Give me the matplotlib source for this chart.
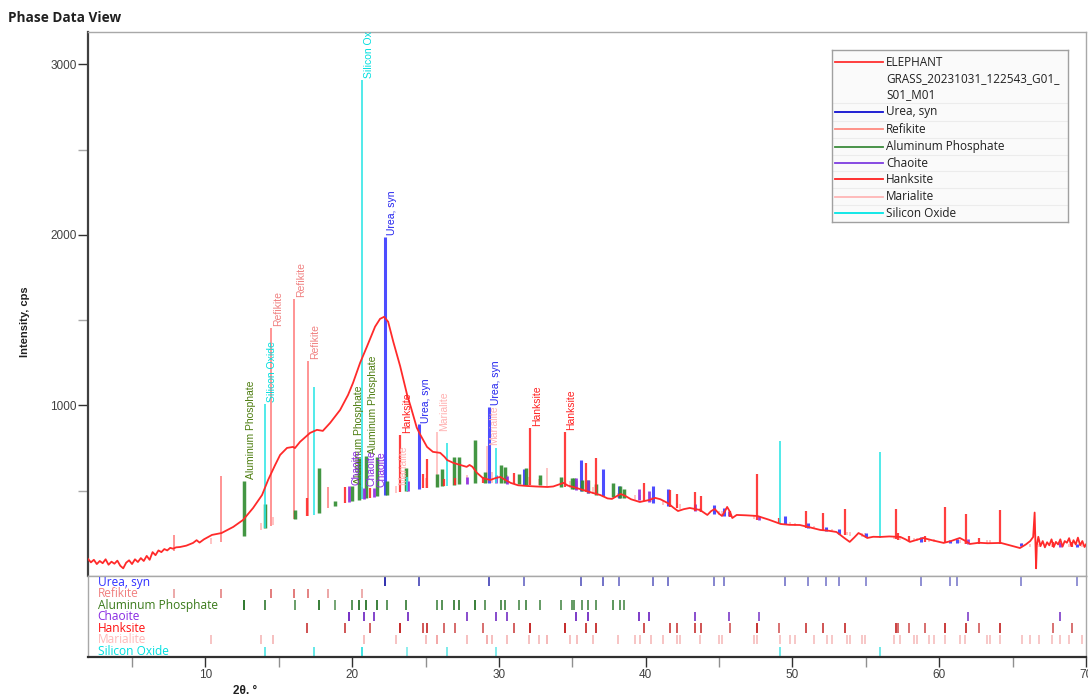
"""Phase Data View: XRD pattern with reference phase sticks."""

import numpy as np
import matplotlib
matplotlib.use("Agg")
import matplotlib.pyplot as plt

# measured pattern (2theta in deg, intensity in cps)
two_theta = [
    2.0, 2.2, 2.4, 2.6, 2.8, 3.0, 3.2, 3.4, 3.6, 3.8, 4.0, 4.2, 4.4, 4.6, 4.8,
    5.0, 5.2, 5.4, 5.6, 5.8, 6.0, 6.2, 6.4, 6.6, 6.8, 7.0, 7.2, 7.4, 7.6, 7.8,
    8.0, 8.27, 8.7, 9.16, 9.4, 9.6, 9.9, 10.45, 11.1, 11.9, 12.57, 13.25, 13.86,
    14.27, 14.75, 15.09, 15.56, 15.97, 16.1, 16.45, 17.13, 17.6, 18.0, 18.5,
    19.18, 19.72, 20.06, 20.54, 21.0, 21.56, 21.9, 22.18, 22.45, 22.8, 23.27,
    23.75, 24.0, 24.4, 24.63, 25.1, 25.5, 26.0, 26.3, 26.47, 26.9, 27.4, 27.8,
    28.0, 28.2, 28.5, 28.9, 29.4, 29.8, 30.1, 30.4, 30.8, 31.3, 31.9, 32.5,
    33.3, 33.7, 34.0, 34.4, 34.7, 35.06, 35.7, 36.4, 36.9, 37.4, 37.7, 38.06,
    38.3, 38.6, 39.0, 39.6, 40.2, 40.65, 41.0, 41.5, 41.9, 42.2, 42.6, 43.0,
    43.7, 44.2, 44.45, 44.7, 45.0, 45.2, 45.4, 45.55, 45.75, 45.9, 46.2, 46.8,
    47.6, 48.4, 49.2, 49.8, 50.5, 51.2, 51.9, 52.5, 53.0, 53.5, 53.9, 54.2,
    54.5, 54.8, 55.1, 55.5, 56.0, 56.6, 57.35, 57.7, 58.0, 58.4, 58.9, 59.5,
    60.3, 60.8, 61.4, 61.8, 62.1, 62.7, 63.3, 64.2, 64.8, 65.5, 65.9, 66.2,
    66.4, 66.5, 66.55, 66.6, 66.65, 66.75, 66.9, 67.05, 67.2, 67.35, 67.5,
    67.65, 67.8, 67.95, 68.1, 68.25, 68.4, 68.55, 68.7, 68.85, 69.0, 69.15,
    69.3, 69.45, 69.6, 69.75, 69.9, 70.0,
]
intensity = [
    100, 80, 95, 70, 88, 75, 98, 66, 84, 72, 90, 60, 45, 78, 92,
    70, 98, 82, 105, 88, 118, 95, 140, 122, 150, 140, 158, 150, 165, 160,
    168, 170, 178, 194, 210, 196, 215, 241, 252, 288, 329, 399, 475,
    563, 651, 710, 751, 757, 750, 787, 839, 857, 851, 898,
    974, 1062, 1133, 1250, 1344, 1462, 1508, 1520, 1491, 1374, 1230,
    1060, 990, 870, 830, 757, 728, 722, 698, 680, 663, 650, 640,
    651, 640, 605, 575, 563, 575, 581, 565, 546, 532, 528, 525,
    522, 525, 534, 546, 530, 522, 505, 487, 475, 455, 452, 470,
    481, 470, 450, 434, 445, 458, 450, 428, 400, 381, 392, 399,
    387, 358, 380, 393, 365, 352, 380, 405, 375, 340, 358, 356,
    352, 330, 305, 300, 299, 285, 270, 265, 258, 225, 200, 225,
    252, 238, 223, 230, 229, 232, 229, 215, 200, 210, 223, 210,
    194, 205, 223, 205, 188, 195, 192, 194, 180, 164, 185, 205,
    229, 372, 210, 45, 180, 230, 175, 205, 168, 198, 180,
    215, 170, 200, 185, 215, 172, 205, 195, 222, 175, 210,
    185, 225, 180, 205, 170, 185,
]

# background level the reference sticks stand on
bg_theta = [2, 8, 11, 12.6, 14, 15.7, 17.5, 18.4, 20, 22.2, 24.5, 27, 29.3,
            32, 34.5, 37, 40, 42, 44, 46, 48, 50, 52, 54, 56, 58, 60, 62,
            64, 66, 70]
bg_counts = [60, 150, 200, 235, 280, 330, 358, 400, 440, 475, 510, 535, 548,
             535, 522, 470, 440, 400, 370, 345, 325, 295, 268, 235, 225, 205,
             195, 190, 190, 170, 170]

phase_names = ["Urea, syn", "Refikite", "Aluminum Phosphate", "Chaoite",
               "Hanksite", "Marialite", "Silicon Oxide"]

urea_pos = [22.22, 24.56, 29.34, 31.7, 35.56, 37.08, 38.18, 40.5, 41.49, 44.63,
            45.36, 49.51, 51.03, 52.31, 53.19, 55.0, 58.76, 60.76, 61.22,
            65.58, 69.4]
urea_h = [1515, 381, 444, 90, 181, 159, 70, 98, 100, 54, 45, 50, 30, 25, 30,
          20, 25, 20, 25, 20, 20]
urea_lab = [22.22, 24.56, 29.34]

refikite_pos = [7.86, 11.09, 14.48, 16.02, 17.0, 18.36, 20.68]
refikite_h = [95, 387, 1162, 1291, 912, 124, 70]
refikite_lab = [14.48, 16.02, 17.0]

alp_pos = [12.61, 14.04, 16.09, 17.75, 18.82, 20.0, 20.45, 20.97, 21.68, 22.34,
           23.7, 25.77, 26.11, 26.95, 27.31, 28.38, 29.06, 30.15, 30.43, 31.4,
           31.86, 32.77, 34.22, 34.97, 35.13, 35.65, 36.1, 36.63, 37.74, 38.27,
           38.54]
alp_h = [323, 139, 50, 264, 30, 90, 246, 249, 231, 82, 136, 77, 102, 163, 161,
         254, 63, 107, 97, 61, 98, 61, 58, 63, 66, 62, 72, 63, 83, 70, 55]
alp_lab = [12.61, 20.0, 20.97]

chaoite_pos = [19.79, 20.81, 21.5, 23.77, 27.81, 29.81, 30.54, 35.27, 36.1,
               39.51, 40.22, 43.38, 45.65, 47.7, 61.94, 68.21]
chaoite_h = [93, 64, 51, 61, 42, 44, 42, 69, 72, 65, 64, 41, 30, 22, 25, 30]
chaoite_lab = [19.79, 20.81, 21.5]

hanksite_pos = [16.93, 19.54, 21.24, 23.25, 24.84, 25.09, 26.27, 27.02, 28.9,
                31.06, 32.13, 34.47, 35.92, 36.61, 39.9, 41.67, 42.13, 43.38,
                43.79, 45.77, 47.58, 49.06, 50.94, 52.08, 53.55, 57.06, 57.19,
                57.96, 59.06, 60.42, 61.85, 62.69, 64.17, 67.76, 69.06]
hanksite_h = [108, 94, 57, 337, 86, 170, 40, 40, 34, 65, 335, 323, 171, 215,
              105, 97, 82, 114, 97, 32, 266, 30, 99, 104, 151, 178, 40, 30, 35,
              211, 174, 30, 198, 30, 30]
hanksite_lab = [23.25, 32.13, 34.47]

marialite_pos = [10.41, 13.77, 14.63, 20.81, 23.0, 25.04, 25.79, 27.81, 29.17,
                 29.52, 30.54, 32.02, 32.7, 33.27, 34.81, 35.31, 36.4, 38.08,
                 39.29, 39.63, 40.38, 41.18, 42.13, 42.35, 43.67, 44.97, 45.2,
                 47.35, 47.58, 49.17, 49.85, 50.2, 51.45, 52.35, 52.7, 53.72,
                 53.94, 54.74, 54.97, 56.9, 57.35, 58.26, 58.49, 59.28, 59.62,
                 60.42, 61.44, 61.78, 63.26, 63.49, 64.17, 65.65, 66.21, 66.78,
                 67.69, 68.26, 68.83, 69.74]
marialite_h = [30, 40, 50, 60, 40, 60, 319, 50, 215, 60, 50, 45, 40, 105, 40,
               50, 40, 30, 30, 30, 30, 30, 30, 25, 25, 25, 25, 25, 25, 20, 20,
               20, 20, 20, 20, 20, 20, 20, 20, 20, 20, 20, 20, 20, 20, 20, 20,
               20, 20, 20, 20, 20, 20, 20, 20, 20, 20, 20]
marialite_lab = [23.0, 25.79, 29.17]

sio_pos = [14.04, 17.41, 20.7, 23.74, 26.45, 29.81, 49.17, 55.94]
sio_h = [729, 752, 2459, 80, 248, 205, 486, 503]
sio_lab = [14.04, 20.7]

# name, positions, heights, labelled sticks, stick colour, label colour,
# bottom-row colour, line width
phases = [
    ("Marialite", marialite_pos, marialite_h, marialite_lab,
     "#ffb8b8", "#ffb0b0", "#f2a0a0", 1.3),
    ("Urea, syn", urea_pos, urea_h, urea_lab,
     "#3a3aff", "#2222ee", "#2020a8", 2.2),
    ("Refikite", refikite_pos, refikite_h, refikite_lab,
     "#ff7f7f", "#f08080", "#e07070", 1.3),
    ("Aluminum Phosphate", alp_pos, alp_h, alp_lab,
     "#2e8b2e", "#4d7d10", "#1f6e1f", 2.5),
    ("Chaoite", chaoite_pos, chaoite_h, chaoite_lab,
     "#8a2be2", "#8a2be2", "#6a1fc0", 2.0),
    ("Hanksite", hanksite_pos, hanksite_h, hanksite_lab,
     "#ff2a2a", "#ff2020", "#c01818", 1.6),
    ("Silicon Oxide", sio_pos, sio_h, sio_lab,
     "#2ee6e6", "#00dede", "#30e0e0", 1.3),
]

row_colors = {"Urea, syn": "#3030ff", "Refikite": "#f08080",
              "Aluminum Phosphate": "#3a7a1a", "Chaoite": "#8a2be2",
              "Hanksite": "#ff1010", "Marialite": "#ffb8b8",
              "Silicon Oxide": "#00e0e0"}
legend_colors = {"Urea, syn": "#1010d0", "Refikite": "#ff8a80",
                 "Aluminum Phosphate": "#3c8c3c", "Chaoite": "#7d3ce0",
                 "Hanksite": "#ff2020", "Marialite": "#ffb6b6",
                 "Silicon Oxide": "#00e6e6"}
sample_name = "ELEPHANT\nGRASS_20231031_122543_G01_\nS01_M01"

W, H = 1088, 694
fig = plt.figure(figsize=(W / 100, H / 100), dpi=100)
fig.patch.set_facecolor("white")

ax = fig.add_axes([88 / W, 1 - 576 / H, 998 / W, 544 / H])
ax2 = fig.add_axes([88 / W, 1 - 657 / H, 998 / W, 81 / H])

# measured curve
ax.plot(two_theta, intensity, color="#ff2a2a", lw=1.3, zorder=5)

# reference sticks + labels, and the stick rows below
for name, pos, h, lab, c_stick, c_lab, c_row, lw in phases:
    pos = np.array(pos, dtype=float)
    h = np.array(h, dtype=float)
    base = np.interp(pos, bg_theta, bg_counts)
    ax.vlines(pos, base, base + h, colors=c_stick, lw=lw, alpha=0.9, zorder=3)
    for p in lab:
        i = int(np.argmin(np.abs(pos - p)))
        ax.annotate(name, xy=(pos[i], base[i] + h[i]), xytext=(5, 1),
                    textcoords="offset points", rotation=90, ha="center",
                    va="bottom", color=c_lab, fontsize=7.5,
                    family="Liberation Sans", clip_on=True, zorder=6)

    row = phase_names.index(name)
    alpha = 0.35 + 0.65 * (h / h.max()) ** 0.3
    for p, a in zip(pos, alpha):
        ax2.vlines(p, row + 0.1, row + 0.9, colors=c_row, lw=1.3, alpha=a)

for row, name in enumerate(phase_names):
    ax2.text(2.65, row + 0.52, name, va="center", ha="left", fontsize=8.6,
             family="Open Sans", color=row_colors[name])

# main axes styling
ax.set_xlim(2, 70)
ax.set_ylim(0, 3190)
ax.set_xticks([])
ax.set_yticks([1000, 2000, 3000])
ax.set_yticks([500, 1500, 2500], minor=True)
ax.tick_params(axis="y", which="major", direction="out", length=7, width=1,
               color="#303030", labelsize=8.5, labelcolor="#404040", pad=1)
ax.tick_params(axis="y", which="minor", direction="out", length=7, width=1,
               color="#a8a8a8")
for lbl in ax.get_yticklabels():
    lbl.set_family("Liberation Sans")
ax.spines["left"].set_color("#404040")
ax.spines["left"].set_linewidth(1.6)
for s in ("top", "right", "bottom"):
    ax.spines[s].set_color("#a8a8a8")
    ax.spines[s].set_linewidth(1.0)

# stick-row axes styling
ax2.set_xlim(2, 70)
ax2.set_ylim(7, 0)
ax2.set_yticks([])
ax2.set_xticks(range(10, 71, 10))
ax2.set_xticks(range(5, 70, 10), minor=True)
ax2.tick_params(axis="x", which="major", direction="out", length=7, width=1,
                color="#303030", labelsize=8.5, labelcolor="#404040", pad=2)
ax2.tick_params(axis="x", which="minor", direction="out", length=7, width=1,
                color="#909090")
for lbl in ax2.get_xticklabels():
    lbl.set_family("Liberation Sans")
ax2.spines["bottom"].set_color("#303030")
ax2.spines["bottom"].set_linewidth(1.6)
for s in ("top", "right", "left"):
    ax2.spines[s].set_color("#a8a8a8")
    ax2.spines[s].set_linewidth(1.0)

# legend box
lax = fig.add_axes([832 / W, 1 - 222 / H, 236 / W, 172 / H], zorder=10)
lax.set_xlim(0, 236)
lax.set_ylim(172, 0)
lax.set_xticks([])
lax.set_yticks([])
lax.set_facecolor("#fafafa")
for s in lax.spines.values():
    s.set_color("#a0a0a0")
    s.set_linewidth(1.0)
lax.plot([3, 51], [11.7, 11.7], color="#ff3030", lw=1.3)
lax.text(54, 28.5, sample_name, va="center", ha="left", fontsize=8.5,
         family="Open Sans", color="#202020", linespacing=1.35)
row_y = [61.7, 79.3, 96.7, 113.3, 129.3, 146.7, 163.3]
for y, name in zip(row_y, phase_names):
    lax.plot([3, 51], [y, y], color=legend_colors[name], lw=1.3)
    lax.text(54, y, name, va="center", ha="left", fontsize=8.5,
             family="Open Sans", color="#202020")
    lax.axhline(y - 8.5, color="#ececec", lw=0.8)

# titles
fig.text(8 / W, 1 - 18 / H, "Phase Data View", fontsize=9.8, fontweight="bold",
         family="Open Sans", va="center", ha="left", color="#202020")
fig.text(25 / W, 1 - 322 / H, "Intensity, cps", rotation=90, fontsize=8,
         fontweight="bold", family="Liberation Sans", va="center",
         ha="center", color="#202020")
fig.text(245 / W, -0.004, "2θ, °", fontsize=8.5, fontweight="bold",
         family="Liberation Sans", va="bottom", ha="center", color="#202020")

fig.savefig("out.png", dpi=100)
